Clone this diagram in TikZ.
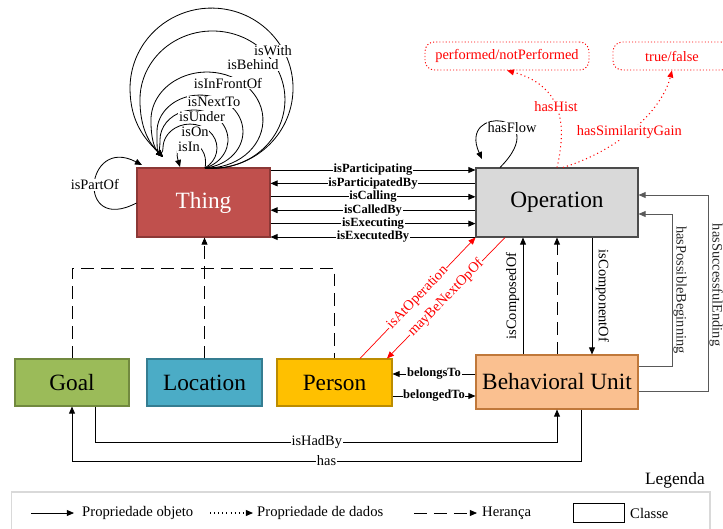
\documentclass[tikz,border=0pt]{standalone}
\usepackage{fontspec}
\setmainfont{Liberation Serif}
\usetikzlibrary{arrows.meta}

\definecolor{thingfill}{HTML}{C0504D}
\definecolor{thingline}{HTML}{8C3836}
\definecolor{opfill}{HTML}{D9D9D9}
\definecolor{goalfill}{HTML}{9BBB59}
\definecolor{goalline}{HTML}{71893F}
\definecolor{locfill}{HTML}{4BACC6}
\definecolor{locline}{HTML}{357D91}
\definecolor{personfill}{HTML}{FFC000}
\definecolor{personline}{HTML}{BC8C00}
\definecolor{bufill}{HTML}{FAC090}
\definecolor{buline}{HTML}{C0783A}
\definecolor{legline}{HTML}{D9D9D9}

\tikzset{
  cls/.style={draw, line width=0.9pt, inner sep=0pt, font=\fontsize{19.9}{22}\selectfont},
  lbl/.style={font=\fontsize{12.3}{14}\selectfont, inner sep=0.6pt, fill=white},
  blbl/.style={font=\fontsize{10.7}{12}\selectfont\bfseries, inner sep=0.6pt, fill=white},
  rlbl/.style={lbl, text=red},
  vlbl/.style={font=\fontsize{12.3}{14}\selectfont, inner sep=0.4pt, anchor=south},
  legtxt/.style={font=\fontsize{12.5}{14}\selectfont, inner sep=0pt, anchor=west},
  obj/.style={line width=0.7pt, ->},
  dat/.style={red, line width=0.9pt, dash pattern=on 0.9pt off 2.6pt, ->},
  inh/.style={line width=0.7pt, dash pattern=on 11pt off 6pt},
  dbox/.style={draw=red, line width=0.8pt, dash pattern=on 0.9pt off 1.8pt, rounded corners=8pt,
    text=red, font=\fontsize{12.3}{14}\selectfont, minimum height=0.84cm}
}

\begin{document}
\begin{tikzpicture}[x=0.03cm, y=-0.03cm, >={Triangle[length=6pt,width=5pt]}]
\useasboundingbox (0,0) rectangle (723,529);

\node[cls, fill=thingfill, draw=thingline, text=white, minimum width=3.99cm, minimum height=2.07cm] (Thing) at (203.5,202.5) {Thing};
\node[cls, fill=opfill, draw=black!70, minimum width=4.86cm, minimum height=2.07cm] (Operation) at (557,202.5) {Operation};
\node[cls, fill=goalfill, draw=goalline, minimum width=3.42cm, minimum height=1.41cm] (Goal) at (72,382.5) {Goal};
\node[cls, fill=locfill, draw=locline, minimum width=3.45cm, minimum height=1.41cm] (Location) at (204.5,382.5) {Location};
\node[cls, fill=personfill, draw=personline, minimum width=3.45cm, minimum height=1.41cm] (Person) at (334.5,382.5) {Person};
\node[cls, fill=bufill, draw=buline, minimum width=4.86cm, minimum height=1.62cm] (BU) at (557,382) {Behavioral Unit};

\node[dbox, minimum width=4.92cm] (perf) at (507,56) {performed/notPerformed};
\node[dbox, minimum width=3.54cm] (tf) at (672,56) {true/false};

\coordinate (thingOut) at (205,168);
\coordinate (thingIn) at (163,157);
\coordinate (thingInIn) at (180,167);
\foreach \sa/\rx/\ry/\da/\db in {94.6/81.5/80.1/35/17,95.9/72.5/68.7/28/14,92/56/48/18/9,83.3/43/36.6/12/6,71.1/34/29.8/8/4,56.2/27/24/4/2}
  \draw[obj] (thingOut) arc[start angle=\sa, end angle=-180, x radius=\rx, y radius=\ry] .. controls +(0,\da) and +(-\db,-\db) .. (thingIn);
\draw[obj] (thingOut) .. controls +(6,-30) and +(-10,-35) .. (thingInIn);
\node[lbl] (lWith) at (273,51) {isWith};
\node[lbl] (lBehind) at (253,65) {isBehind};
\node[lbl] (lFront) at (228,83) {isInFrontOf};
\node[lbl] (lNext) at (214,102) {isNextTo};
\node[lbl] (lUnder) at (202,117) {isUnder};
\node[lbl] (lOn) at (195,132) {isOn};
\node[lbl] (lIn) at (189,147) {isIn};

\coordinate (partIn) at (142,165);
\draw[obj] (Thing.west |- 0,203) .. controls (75,235) and (85,135) .. node[pos=0.5, lbl]{isPartOf} (partIn);

\foreach \i/\lbl/\a in {0/isParticipating/->,1/isParticipatedBy/<-,2/isCalling/->,3/isCalledBy/<-,4/isExecuting/->,5/isExecutedBy/<-}
  \draw[line width=0.7pt, \a] (Thing.east |- 0,170+13.4*\i) -- node[blbl]{\lbl} (Operation.west |- 0,170+13.4*\i);

\coordinate (flowIn) at (482,159);
\draw[obj] (Operation.north -| 500,0) .. controls +(55,-55) and +(-25,-55) .. (flowIn);
\node[lbl] (lFlow) at (512,128) {hasFlow};

\draw[dat] (Operation.north) .. controls (568,120) and (560,85) .. node[pos=0.5, rlbl]{hasHist} (perf.south);
\draw[dat] (Operation.north -| 563,0) .. controls (620,150) and (662,110) .. node[pos=0.45, rlbl]{hasSimilarityGain} (tf.south);

\draw[obj, red, line width=0.6pt] (Person.north -| 360,0) -- node[midway, sloped, rlbl]{isAtOperation} (Operation.south west);
\draw[obj, red, line width=0.6pt] (Operation.south -| 505,0) -- node[midway, sloped, rlbl]{mayBeNextOpOf} (Person.north -| 387,0);

\draw[obj] (BU.west |- 0,374) -- node[blbl]{belongsTo} (Person.east |- 0,374);
\draw[obj] (Person.east |- 0,396) -- node[blbl]{belongedTo} (BU.west |- 0,396);

\draw[obj] (BU.north -| 523,0) -- node[midway, rotate=90, vlbl, inner sep=3pt]{isComposedOf} (Operation.south -| 523,0);
\draw[inh, ->] (BU.north) -- (Operation.south);
\draw[obj] (Operation.south -| 592,0) -- node[midway, rotate=-90, vlbl, inner sep=3pt]{isComponentOf} (BU.north -| 592,0);

\draw[obj, black!65] (BU.east |- 0,366) -- ++(34,0) |- node[pos=0.25, rotate=-90, vlbl, text=black!85]{hasPossibleBeginning} (Operation.east |- 0,214);
\draw[obj, black!65] (BU.east |- 0,391) -- ++(70,0) |- node[pos=0.27, rotate=-90, vlbl, text=black!85]{hasSuccessfulEnding} (Operation.east |- 0,195);

\draw[obj] (Goal.south -| 95,0) |- node[pos=0.74, lbl]{isHadBy} (BU.south |- 0,442) -- (BU.south);
\draw[obj] (BU.south -| 581,0) |- node[pos=0.75, lbl]{has} (Goal.south |- 0,461) -- (Goal.south);

\draw[inh] (Goal.north) |- (Person.north |- 0,268) -- (Person.north);
\draw[inh, ->] (Location.north) -- (Location.north |- Thing.south);

\node[anchor=east, font=\fontsize{14.8}{17}\selectfont, inner sep=0pt] (legTitle) at (705,480) {Legenda};
\draw[legline, line width=1.6pt] (11.5,492) rectangle (710,545);
\node[legtxt] (lgObj) at (82,513) {Propriedade objeto};
\node[legtxt] (lgDat) at (257,513) {Propriedade de dados};
\node[legtxt] (lgInh) at (482,513) {Herança};
\node[legtxt] (lgCls) at (630,513) {Classe};
\node[draw, line width=0.7pt, minimum width=1.53cm, minimum height=0.57cm] (lgBox) at (598.5,512.5) {};
\coordinate (lgObjS) at (31,513);
\coordinate (lgDatS) at (210,513);
\coordinate (lgInhS) at (414,513);
\draw[obj] (lgObjS) -- ([xshift=-0.24cm]lgObj.west);
\draw[obj, dash pattern=on 0.9pt off 2.6pt, line width=0.9pt] (lgDatS) -- ([xshift=-0.12cm]lgDat.west);
\draw[inh, ->] (lgInhS) -- ([xshift=-0.15cm]lgInh.west);
\end{tikzpicture}
\end{document}
